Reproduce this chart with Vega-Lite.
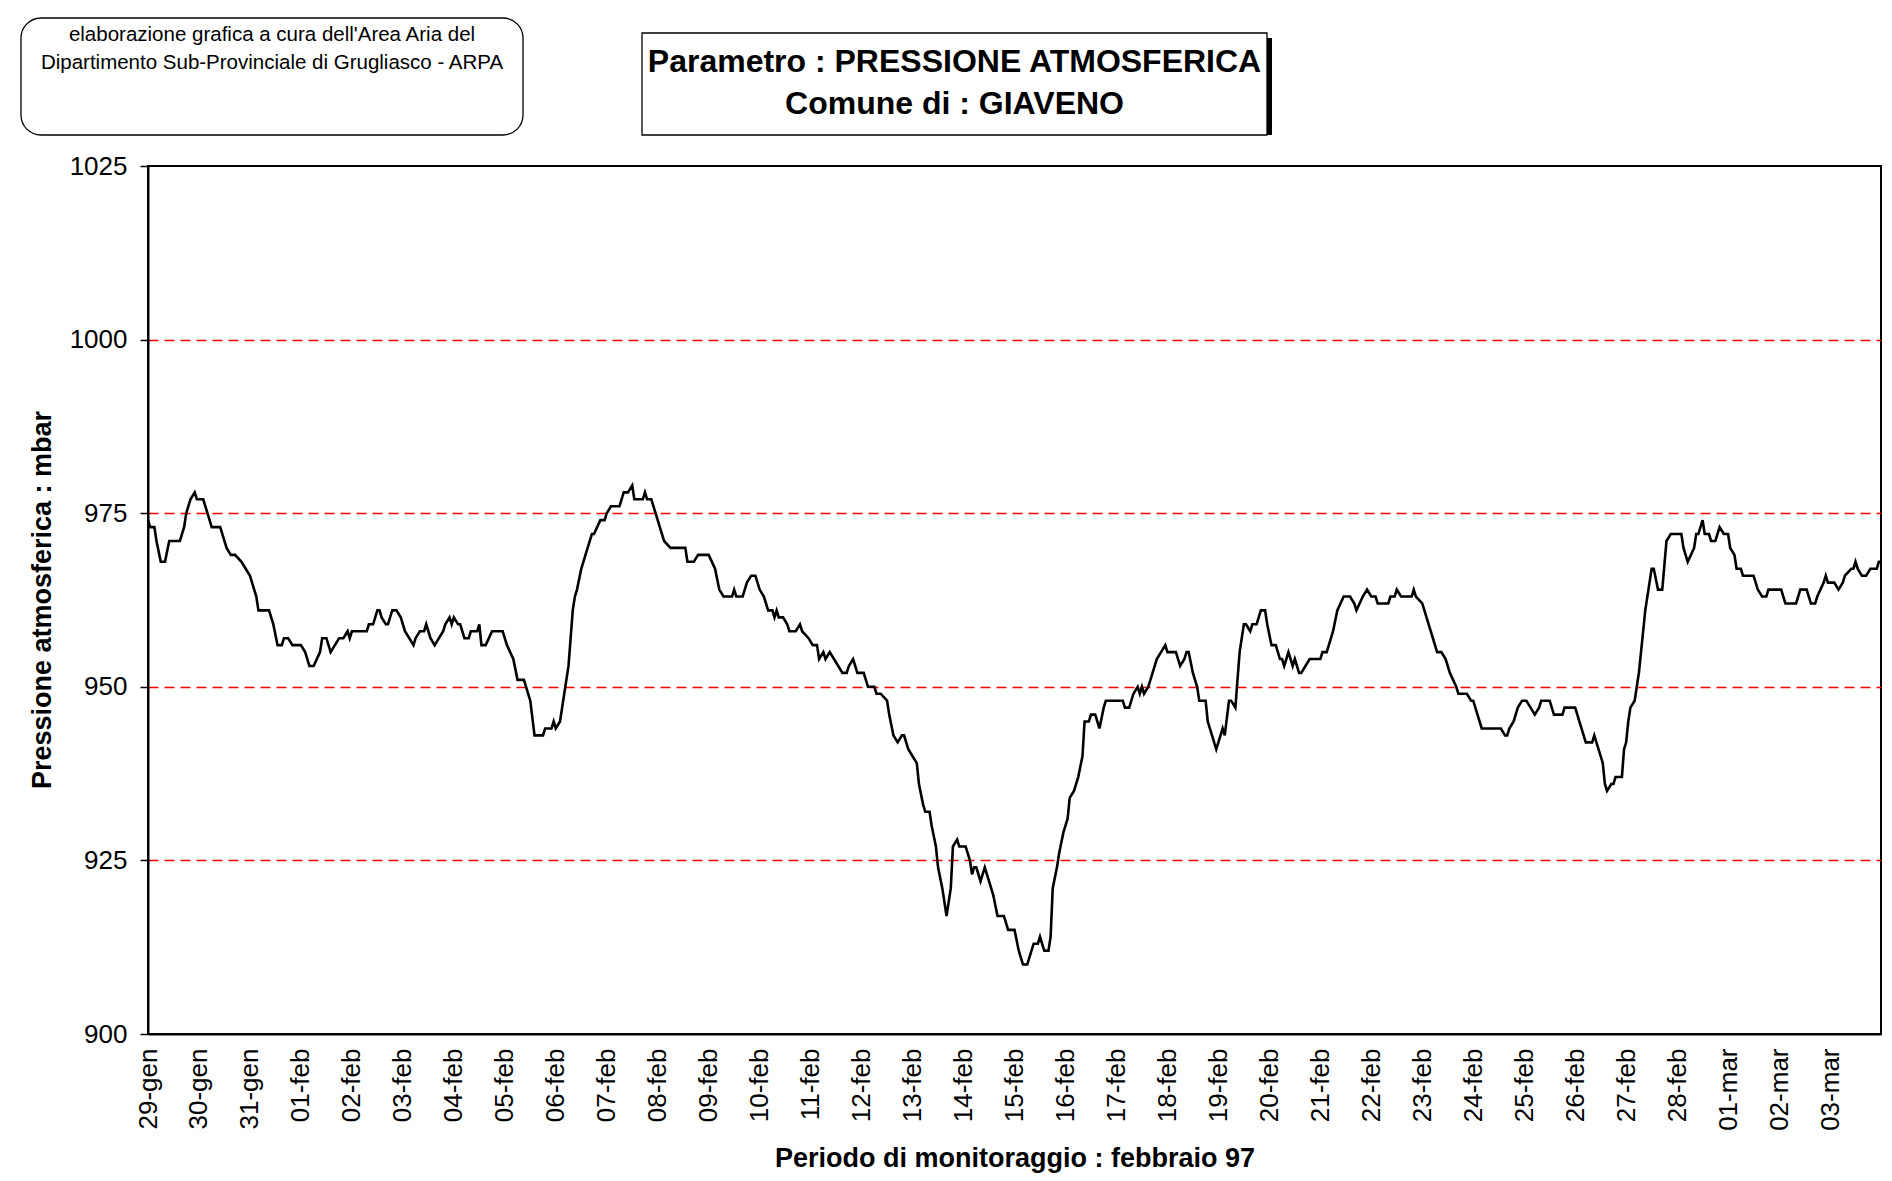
{
  "$schema": "https://vega.github.io/schema/vega-lite/v6.json",
  "background": "white",
  "padding": {"left": 20, "top": 17, "right": 5, "bottom": 5},
  "config": {"font": "Liberation Sans"},
  "spacing": 16,
  "vconcat": [
    {
      "spacing": 117,
      "hconcat": [
        {
          "width": 502,
          "height": 117,
          "data": {"values": [{}]},
          "view": {"stroke": null},
          "layer": [
            {"mark": {"type": "rect", "fill": "white", "stroke": "black", "strokeWidth": 1.3, "cornerRadius": 20}, "encoding": {}},
            {"mark": {"type": "text", "text": ["elaborazione grafica a cura dell'Area Aria del", "Dipartimento Sub-Provinciale di Grugliasco - ARPA"], "fontSize": 20.5, "lineHeight": 28, "baseline": "top", "dy": -52, "color": "black"}, "encoding": {}}
          ]
        },
        {
          "spacing": 13,
          "vconcat": [
            {
              "width": 625,
              "height": 1,
              "data": {"values": [{}]},
              "view": {"stroke": null},
              "mark": {"type": "rect", "opacity": 0},
              "encoding": {}
            },
            {
              "width": 625,
              "height": 102,
              "data": {"values": [{}]},
              "view": {"stroke": null},
              "layer": [
                {"mark": {"type": "rect", "fill": "black", "xOffset": 5, "x2Offset": 5, "yOffset": 5, "y2Offset": 5}, "encoding": {}},
                {"mark": {"type": "rect", "fill": "white", "stroke": "black", "strokeWidth": 1.3}, "encoding": {}},
                {"mark": {"type": "text", "text": ["Parametro : PRESSIONE ATMOSFERICA", "Comune di : GIAVENO"], "fontSize": 32, "fontWeight": "bold", "lineHeight": 42, "dy": -22, "color": "black"}, "encoding": {}}
              ]
            }
          ]
        }
      ]
    },
    {
      "spacing": 3,
      "hconcat": [
        {
          "width": 44,
          "height": 868,
          "data": {"values": [{}]},
          "view": {"stroke": null},
          "mark": {"type": "text", "text": "Pressione atmosferica : mbar", "angle": 270, "fontSize": 27, "fontWeight": "bold", "color": "black"},
          "encoding": {}
        },
        {
          "width": 1733,
          "height": 868,
          "view": {"stroke": "black", "strokeWidth": 2},
          "data": {"values": [
            {"ora":0,"pressione":974},{"ora":1,"pressione":973},{"ora":3,"pressione":973},{"ora":4,"pressione":971},{"ora":6,"pressione":968},{"ora":8,"pressione":968},{"ora":10,"pressione":971},{"ora":15,"pressione":971},{"ora":17,"pressione":973},{"ora":18,"pressione":975},{"ora":20,"pressione":977},{"ora":22,"pressione":978},{"ora":23,"pressione":977},{"ora":26,"pressione":977},{"ora":28,"pressione":975},{"ora":30,"pressione":973},{"ora":34,"pressione":973},{"ora":37,"pressione":970},{"ora":39,"pressione":969},{"ora":41,"pressione":969},{"ora":44,"pressione":968},{"ora":46,"pressione":967},{"ora":48,"pressione":966},{"ora":51,"pressione":963},{"ora":52,"pressione":961},{"ora":57,"pressione":961},{"ora":59,"pressione":959},{"ora":61,"pressione":956},{"ora":63,"pressione":956},{"ora":64,"pressione":957},{"ora":66,"pressione":957},{"ora":68,"pressione":956},{"ora":72,"pressione":956},{"ora":74,"pressione":955},{"ora":76,"pressione":953},{"ora":78,"pressione":953},{"ora":81,"pressione":955},{"ora":82,"pressione":957},{"ora":84,"pressione":957},{"ora":85,"pressione":956},{"ora":86,"pressione":955},{"ora":88,"pressione":956},{"ora":90,"pressione":957},{"ora":92,"pressione":957},{"ora":94,"pressione":958},{"ora":95,"pressione":957},{"ora":96,"pressione":958},{"ora":103,"pressione":958},{"ora":104,"pressione":959},{"ora":106,"pressione":959},{"ora":108,"pressione":961},{"ora":109,"pressione":961},{"ora":110,"pressione":960},{"ora":112,"pressione":959},{"ora":113,"pressione":959},{"ora":115,"pressione":961},{"ora":117,"pressione":961},{"ora":119,"pressione":960},{"ora":121,"pressione":958},{"ora":123,"pressione":957},{"ora":125,"pressione":956},{"ora":126,"pressione":957},{"ora":128,"pressione":958},{"ora":130,"pressione":958},{"ora":131,"pressione":959},{"ora":133,"pressione":957},{"ora":135,"pressione":956},{"ora":137,"pressione":957},{"ora":139,"pressione":958},{"ora":140,"pressione":959},{"ora":142,"pressione":960},{"ora":143,"pressione":959},{"ora":144,"pressione":960},{"ora":146,"pressione":959},{"ora":147,"pressione":959},{"ora":149,"pressione":957},{"ora":151,"pressione":957},{"ora":152,"pressione":958},{"ora":155,"pressione":958},{"ora":156,"pressione":959},{"ora":157,"pressione":956},{"ora":159,"pressione":956},{"ora":162,"pressione":958},{"ora":167,"pressione":958},{"ora":169,"pressione":956},{"ora":172,"pressione":954},{"ora":174,"pressione":951},{"ora":177,"pressione":951},{"ora":180,"pressione":948},{"ora":182,"pressione":943},{"ora":186,"pressione":943},{"ora":187,"pressione":944},{"ora":190,"pressione":944},{"ora":191,"pressione":945},{"ora":192,"pressione":944},{"ora":194,"pressione":945},{"ora":196,"pressione":949},{"ora":198,"pressione":953},{"ora":200,"pressione":961},{"ora":201,"pressione":963},{"ora":202,"pressione":964},{"ora":204,"pressione":967},{"ora":206,"pressione":969},{"ora":209,"pressione":972},{"ora":210,"pressione":972},{"ora":213,"pressione":974},{"ora":215,"pressione":974},{"ora":216,"pressione":975},{"ora":218,"pressione":976},{"ora":222,"pressione":976},{"ora":224,"pressione":978},{"ora":226,"pressione":978},{"ora":228,"pressione":979},{"ora":229,"pressione":977},{"ora":233,"pressione":977},{"ora":234,"pressione":978},{"ora":235,"pressione":977},{"ora":237,"pressione":977},{"ora":239,"pressione":975},{"ora":241,"pressione":973},{"ora":243,"pressione":971},{"ora":246,"pressione":970},{"ora":253,"pressione":970},{"ora":254,"pressione":968},{"ora":257,"pressione":968},{"ora":259,"pressione":969},{"ora":264,"pressione":969},{"ora":267,"pressione":967},{"ora":269,"pressione":964},{"ora":271,"pressione":963},{"ora":275,"pressione":963},{"ora":276,"pressione":964},{"ora":277,"pressione":963},{"ora":280,"pressione":963},{"ora":282,"pressione":965},{"ora":284,"pressione":966},{"ora":286,"pressione":966},{"ora":288,"pressione":964},{"ora":290,"pressione":963},{"ora":292,"pressione":961},{"ora":294,"pressione":961},{"ora":295,"pressione":960},{"ora":296,"pressione":961},{"ora":297,"pressione":960},{"ora":299,"pressione":960},{"ora":301,"pressione":959},{"ora":302,"pressione":958},{"ora":305,"pressione":958},{"ora":307,"pressione":959},{"ora":308,"pressione":958},{"ora":311,"pressione":957},{"ora":313,"pressione":956},{"ora":315,"pressione":956},{"ora":316,"pressione":954},{"ora":318,"pressione":955},{"ora":319,"pressione":954},{"ora":321,"pressione":955},{"ora":323,"pressione":954},{"ora":325,"pressione":953},{"ora":327,"pressione":952},{"ora":329,"pressione":952},{"ora":330,"pressione":953},{"ora":332,"pressione":954},{"ora":333,"pressione":953},{"ora":334,"pressione":952},{"ora":337,"pressione":952},{"ora":339,"pressione":950},{"ora":342,"pressione":950},{"ora":343,"pressione":949},{"ora":345,"pressione":949},{"ora":348,"pressione":948},{"ora":349,"pressione":946},{"ora":351,"pressione":943},{"ora":353,"pressione":942},{"ora":355,"pressione":943},{"ora":356,"pressione":943},{"ora":358,"pressione":941},{"ora":360,"pressione":940},{"ora":362,"pressione":939},{"ora":363,"pressione":936},{"ora":365,"pressione":933},{"ora":366,"pressione":932},{"ora":368,"pressione":932},{"ora":369,"pressione":930},{"ora":371,"pressione":927},{"ora":372,"pressione":924},{"ora":374,"pressione":921},{"ora":376,"pressione":917},{"ora":378,"pressione":921},{"ora":379,"pressione":927},{"ora":381,"pressione":928},{"ora":382,"pressione":927},{"ora":385,"pressione":927},{"ora":387,"pressione":925},{"ora":388,"pressione":923},{"ora":389,"pressione":924},{"ora":390,"pressione":924},{"ora":392,"pressione":922},{"ora":394,"pressione":924},{"ora":396,"pressione":922},{"ora":398,"pressione":920},{"ora":400,"pressione":917},{"ora":403,"pressione":917},{"ora":404,"pressione":916},{"ora":405,"pressione":915},{"ora":408,"pressione":915},{"ora":410,"pressione":912},{"ora":412,"pressione":910},{"ora":414,"pressione":910},{"ora":417,"pressione":913},{"ora":419,"pressione":913},{"ora":420,"pressione":914},{"ora":422,"pressione":912},{"ora":424,"pressione":912},{"ora":425,"pressione":914},{"ora":426,"pressione":921},{"ora":428,"pressione":924},{"ora":429,"pressione":926},{"ora":431,"pressione":929},{"ora":433,"pressione":931},{"ora":434,"pressione":934},{"ora":436,"pressione":935},{"ora":438,"pressione":937},{"ora":440,"pressione":940},{"ora":441,"pressione":945},{"ora":443,"pressione":945},{"ora":444,"pressione":946},{"ora":446,"pressione":946},{"ora":448,"pressione":944},{"ora":450,"pressione":947},{"ora":451,"pressione":948},{"ora":459,"pressione":948},{"ora":460,"pressione":947},{"ora":462,"pressione":947},{"ora":464,"pressione":949},{"ora":466,"pressione":950},{"ora":467,"pressione":949},{"ora":468,"pressione":950},{"ora":469,"pressione":949},{"ora":471,"pressione":950},{"ora":475,"pressione":954},{"ora":477,"pressione":955},{"ora":479,"pressione":956},{"ora":480,"pressione":955},{"ora":484,"pressione":955},{"ora":486,"pressione":953},{"ora":488,"pressione":954},{"ora":489,"pressione":955},{"ora":490,"pressione":955},{"ora":492,"pressione":952},{"ora":494,"pressione":950},{"ora":495,"pressione":948},{"ora":498,"pressione":948},{"ora":499,"pressione":945},{"ora":501,"pressione":943},{"ora":503,"pressione":941},{"ora":506,"pressione":944},{"ora":507,"pressione":943},{"ora":509,"pressione":948},{"ora":510,"pressione":948},{"ora":512,"pressione":947},{"ora":514,"pressione":955},{"ora":516,"pressione":959},{"ora":517,"pressione":959},{"ora":519,"pressione":958},{"ora":520,"pressione":959},{"ora":522,"pressione":959},{"ora":524,"pressione":961},{"ora":526,"pressione":961},{"ora":527,"pressione":959},{"ora":529,"pressione":956},{"ora":531,"pressione":956},{"ora":533,"pressione":954},{"ora":534,"pressione":954},{"ora":535,"pressione":953},{"ora":537,"pressione":955},{"ora":539,"pressione":953},{"ora":540,"pressione":954},{"ora":542,"pressione":952},{"ora":543,"pressione":952},{"ora":545,"pressione":953},{"ora":547,"pressione":954},{"ora":552,"pressione":954},{"ora":553,"pressione":955},{"ora":555,"pressione":955},{"ora":558,"pressione":958},{"ora":560,"pressione":961},{"ora":563,"pressione":963},{"ora":566,"pressione":963},{"ora":568,"pressione":962},{"ora":569,"pressione":961},{"ora":572,"pressione":963},{"ora":574,"pressione":964},{"ora":576,"pressione":963},{"ora":578,"pressione":963},{"ora":579,"pressione":962},{"ora":584,"pressione":962},{"ora":585,"pressione":963},{"ora":587,"pressione":963},{"ora":588,"pressione":964},{"ora":590,"pressione":963},{"ora":595,"pressione":963},{"ora":596,"pressione":964},{"ora":597,"pressione":963},{"ora":600,"pressione":962},{"ora":602,"pressione":960},{"ora":604,"pressione":958},{"ora":607,"pressione":955},{"ora":609,"pressione":955},{"ora":611,"pressione":954},{"ora":613,"pressione":952},{"ora":616,"pressione":950},{"ora":617,"pressione":949},{"ora":621,"pressione":949},{"ora":623,"pressione":948},{"ora":624,"pressione":948},{"ora":626,"pressione":946},{"ora":628,"pressione":944},{"ora":637,"pressione":944},{"ora":639,"pressione":943},{"ora":640,"pressione":943},{"ora":641,"pressione":944},{"ora":643,"pressione":945},{"ora":645,"pressione":947},{"ora":647,"pressione":948},{"ora":649,"pressione":948},{"ora":651,"pressione":947},{"ora":653,"pressione":946},{"ora":655,"pressione":947},{"ora":656,"pressione":948},{"ora":660,"pressione":948},{"ora":662,"pressione":946},{"ora":666,"pressione":946},{"ora":667,"pressione":947},{"ora":672,"pressione":947},{"ora":674,"pressione":945},{"ora":677,"pressione":942},{"ora":679,"pressione":942},{"ora":680,"pressione":942},{"ora":681,"pressione":943},{"ora":682,"pressione":942},{"ora":684,"pressione":940},{"ora":685,"pressione":939},{"ora":686,"pressione":936},{"ora":687,"pressione":935},{"ora":689,"pressione":936},{"ora":690,"pressione":936},{"ora":691,"pressione":937},{"ora":694,"pressione":937},{"ora":695,"pressione":941},{"ora":696,"pressione":942},{"ora":697,"pressione":945},{"ora":698,"pressione":947},{"ora":700,"pressione":948},{"ora":701,"pressione":950},{"ora":702,"pressione":952},{"ora":703,"pressione":955},{"ora":705,"pressione":961},{"ora":707,"pressione":965},{"ora":708,"pressione":967},{"ora":709,"pressione":967},{"ora":711,"pressione":964},{"ora":713,"pressione":964},{"ora":715,"pressione":971},{"ora":717,"pressione":972},{"ora":722,"pressione":972},{"ora":723,"pressione":970},{"ora":725,"pressione":968},{"ora":728,"pressione":970},{"ora":729,"pressione":972},{"ora":730,"pressione":972},{"ora":732,"pressione":974},{"ora":733,"pressione":972},{"ora":735,"pressione":972},{"ora":736,"pressione":971},{"ora":738,"pressione":971},{"ora":740,"pressione":973},{"ora":742,"pressione":972},{"ora":744,"pressione":972},{"ora":745,"pressione":970},{"ora":747,"pressione":969},{"ora":748,"pressione":967},{"ora":750,"pressione":967},{"ora":751,"pressione":966},{"ora":756,"pressione":966},{"ora":758,"pressione":964},{"ora":760,"pressione":963},{"ora":762,"pressione":963},{"ora":763,"pressione":964},{"ora":769,"pressione":964},{"ora":770,"pressione":963},{"ora":771,"pressione":962},{"ora":776,"pressione":962},{"ora":778,"pressione":964},{"ora":781,"pressione":964},{"ora":783,"pressione":962},{"ora":785,"pressione":962},{"ora":786,"pressione":963},{"ora":789,"pressione":965},{"ora":790,"pressione":966},{"ora":791,"pressione":965},{"ora":794,"pressione":965},{"ora":796,"pressione":964},{"ora":798,"pressione":965},{"ora":799,"pressione":966},{"ora":802,"pressione":967},{"ora":803,"pressione":967},{"ora":804,"pressione":968},{"ora":805,"pressione":967},{"ora":807,"pressione":966},{"ora":809,"pressione":966},{"ora":811,"pressione":967},{"ora":814,"pressione":967},{"ora":815,"pressione":968},{"ora":816,"pressione":968}
          ]},
          "mark": {"type": "line", "color": "black", "strokeWidth": 2.6},
          "encoding": {
            "x": {
              "field": "ora",
              "type": "quantitative",
              "scale": {"domain": [0, 816], "nice": false, "zero": false},
              "axis": {
                "title": "Periodo di monitoraggio : febbraio 97",
                "values": [0,24,48,72,96,120,144,168,192,216,240,264,288,312,336,360,384,408,432,456,480,504,528,552,576,600,624,648,672,696,720,744,768,792],
                "labelExpr": "['29-gen','30-gen','31-gen','01-feb','02-feb','03-feb','04-feb','05-feb','06-feb','07-feb','08-feb','09-feb','10-feb','11-feb','12-feb','13-feb','14-feb','15-feb','16-feb','17-feb','18-feb','19-feb','20-feb','21-feb','22-feb','23-feb','24-feb','25-feb','26-feb','27-feb','28-feb','01-mar','02-mar','03-mar'][round(datum.value/24)]",
                "labelAngle": -90,
                "labelFontSize": 26,
                "labelColor": "black",
                "labelPadding": 14,
                "labelFlush": false,
                "labelOverlap": false,
                "labelBound": false,
                "ticks": false,
                "tickSize": 0,
                "grid": false,
                "domainColor": "black",
                "domainWidth": 2,
                "titleFontSize": 27,
                "titleFontWeight": "bold",
                "titleColor": "black",
                "titlePadding": 15
              }
            },
            "y": {
              "field": "pressione",
              "type": "quantitative",
              "scale": {"domain": [900, 1025], "nice": false, "zero": false},
              "axis": {
                "title": null,
                "values": [900, 925, 950, 975, 1000, 1025],
                "format": "d",
                "labelFontSize": 26,
                "labelColor": "black",
                "labelPadding": 13,
                "labelFlush": false,
                "tickSize": 8,
                "tickColor": "black",
                "tickWidth": 1.5,
                "domainColor": "black",
                "domainWidth": 2,
                "grid": true,
                "gridColor": "#ff0000",
                "gridDash": [10, 6],
                "gridWidth": 1.3,
                "gridOpacity": {"condition": {"test": "datum.value === 900 || datum.value === 1025", "value": 0}, "value": 1}
              }
            }
          }
        }
      ]
    }
  ]
}
